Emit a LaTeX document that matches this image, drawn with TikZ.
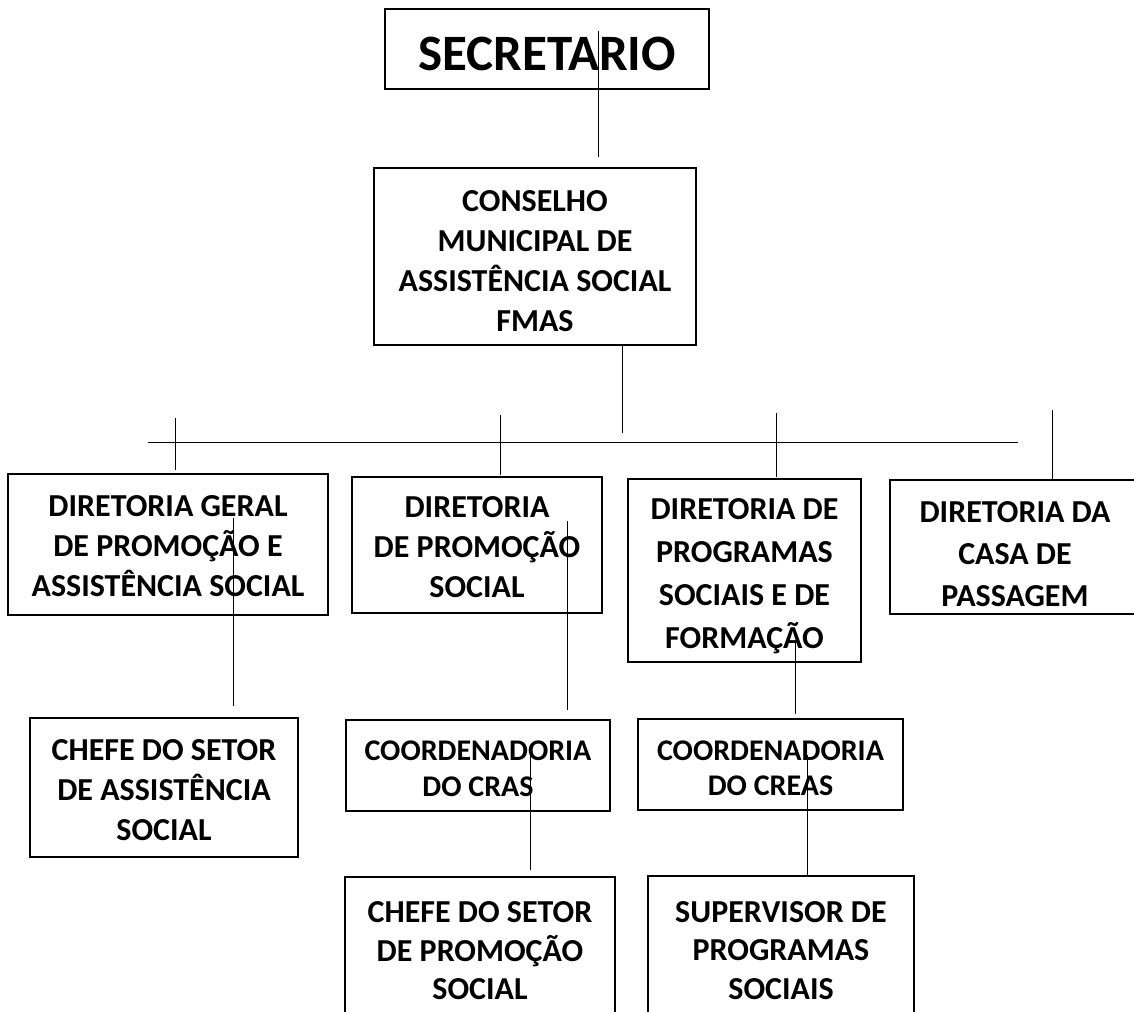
\documentclass[tikz,border=0pt]{standalone}
\usepackage{fontspec}
\setmainfont{Carlito}
\newcommand{\lift}[1]{\rule{0pt}{#1}}
\begin{document}
\begin{tikzpicture}[x=1pt,y=-1pt,
  box/.style={draw,line width=1.5pt,inner sep=0pt,align=center,
    font=\bfseries\fontsize{32}{40}\selectfont},
  conn/.style={line width=0.9pt}]
\useasboundingbox (0,0) rectangle (1134,1011);
\clip (0,0) rectangle (1134,1011);
% boxes
\node[box,minimum width=324pt,minimum height=80pt,font=\bfseries\fontsize{51}{60}\selectfont] (sec) at (547,49) {\lift{44pt}SECRETARIO};
\node[box,minimum width=322pt,minimum height=177pt] (cms) at (535,256.5) {\lift{31pt}CONSELHO\\MUNICIPAL DE\\ASSISTÊNCIA SOCIAL\\FMAS};
\node[box,minimum width=320pt,minimum height=141pt] (dgp) at (168,544.5) {\lift{25pt}DIRETORIA GERAL\\DE PROMOÇÃO E\\ASSISTÊNCIA SOCIAL};
\node[box,minimum width=250pt,minimum height=136pt] (dps) at (477,545) {\lift{25pt}DIRETORIA\\DE PROMOÇÃO\\SOCIAL};
\node[box,minimum width=233pt,minimum height=183pt,font=\bfseries\fontsize{32}{43}\selectfont] (dpf) at (744.5,570.5) {\lift{33pt}DIRETORIA DE\\PROGRAMAS\\SOCIAIS E DE\\FORMAÇÃO};
\node[box,minimum width=250pt,minimum height=134pt,font=\bfseries\fontsize{32}{42}\selectfont] (dcp) at (1015,547) {\lift{35pt}DIRETORIA DA\\CASA DE\\PASSAGEM};
\node[box,minimum width=268pt,minimum height=139pt] (csa) at (164,787.5) {\lift{27pt}CHEFE DO SETOR\\DE ASSISTÊNCIA\\SOCIAL};
\node[box,minimum width=264pt,minimum height=91pt,font=\bfseries\fontsize{30}{36}\selectfont] (cras) at (478,765.5) {\lift{27pt}COORDENADORIA\\DO CRAS};
\node[box,minimum width=265pt,minimum height=91pt,font=\bfseries\fontsize{30}{35}\selectfont] (creas) at (770.5,764.5) {\lift{27pt}COORDENADORIA\\DO CREAS};
\node[box,minimum width=270pt,minimum height=148pt,font=\bfseries\fontsize{32}{38.5}\selectfont] (csp) at (480,951) {CHEFE DO SETOR\\DE PROMOÇÃO\\SOCIAL};
\node[box,minimum width=266pt,minimum height=149pt,font=\bfseries\fontsize{32}{38.5}\selectfont] (sup) at (781,950.5) {SUPERVISOR DE\\PROGRAMAS\\SOCIAIS};
% connector end points
\coordinate (s1) at (598,31);   \coordinate (s2) at (598,157);
\coordinate (c1) at (622,345);  \coordinate (c2) at (622,433);
\coordinate (b1) at (148,442);  \coordinate (b2) at (1018,442);
\coordinate (t1a) at (175,418); \coordinate (t1b) at (175,470);
\coordinate (t2a) at (500,415); \coordinate (t2b) at (500,475);
\coordinate (t3a) at (776,413); \coordinate (t3b) at (776,477);
\coordinate (t4a) at (1052,410);\coordinate (t4b) at (1052,479);
\coordinate (a1) at (233,518);  \coordinate (a2) at (233,706);
\coordinate (p1) at (567,521);  \coordinate (p2) at (567,710);
\coordinate (f1) at (795,641);  \coordinate (f2) at (795,714);
\coordinate (r1) at (530,755);  \coordinate (r2) at (530,870);
\coordinate (e1) at (807,755);  \coordinate (e2) at (807,875);
% connectors
\draw[conn] (s1) -- (s2);
\draw[conn] (c1) -- (c2);
\draw[conn] (b1) -- (b2);
\draw[conn] (t1a) -- (t1b);
\draw[conn] (t2a) -- (t2b);
\draw[conn] (t3a) -- (t3b);
\draw[conn] (t4a) -- (t4b);
\draw[conn] (a1) -- (a2);
\draw[conn] (p1) -- (p2);
\draw[conn] (f1) -- (f2);
\draw[conn] (r1) -- (r2);
\draw[conn] (e1) -- (e2);
\end{tikzpicture}
\end{document}
